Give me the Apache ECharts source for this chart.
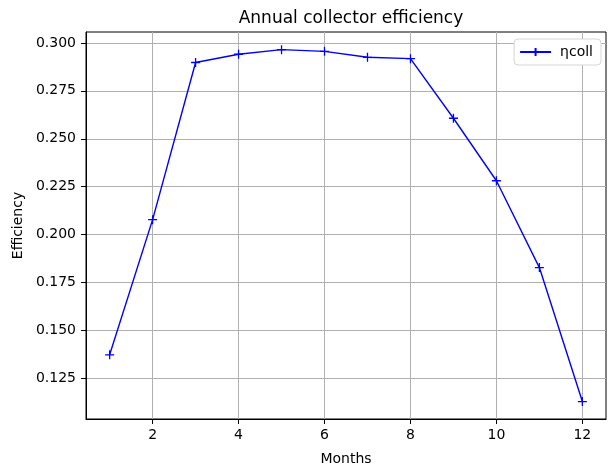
<!DOCTYPE html>
<html>
<head>
<meta charset="utf-8">
<script src="https://cdn.jsdelivr.net/npm/echarts@6/dist/echarts.min.js"></script>
<style>html,body{margin:0;padding:0;background:#fff}#c{width:609px;height:466px}</style>
</head>
<body>
<div id="c"></div>
<script>
const months = [1, 2, 3, 4, 5, 6, 7, 8, 9, 10, 11, 12];
const efficiency = [0.1373, 0.2078, 0.2898, 0.2941, 0.2965, 0.2956, 0.2925, 0.2918, 0.2607, 0.2281, 0.1828, 0.1129];
const xTicks = [2, 4, 6, 8, 10, 12];
const yTicks = [0.125, 0.150, 0.175, 0.200, 0.225, 0.250, 0.275, 0.300];
const seriesName = 'ηcoll';
const titleText = 'Annual collector efficiency';
const xName = 'Months';
const yName = 'Efficiency';

const font = 'DejaVu Sans';
const chart = echarts.init(document.getElementById('c'), null, {renderer: 'canvas'});
const plus = 'path://M0,5L10,5M5,0L5,10';
chart.setOption({
  animation: false,
  title: {text: titleText, left: 346, top: 5, textAlign: 'center',
    textStyle: {fontFamily: font, fontSize: 17, fontWeight: 'normal', color: '#000'}},
  grid: {left: 86, right: 3, top: 32, bottom: 47, show: true, borderColor: '#000', borderWidth: 1,
    backgroundColor: 'transparent', containLabel: false, outerBoundsMode: 'none'},
  legend: {
    right: 8, top: 39, orient: 'vertical',
    backgroundColor: '#fff', borderColor: '#d5d5d5', borderWidth: 1, borderRadius: 4,
    padding: [6, 8, 6, 5], itemWidth: 31, itemHeight: 10, itemGap: 4,
    textStyle: {fontFamily: font, fontSize: 14, color: '#000', padding: [0, 0, 0, 4]},
    data: [{name: seriesName}]
  },
  xAxis: {
    type: 'value', min: 0.45, max: 12.55,
    name: xName, nameLocation: 'middle', nameGap: 33,
    nameTextStyle: {fontFamily: font, fontSize: 14, color: '#000'},
    axisLine: {show: true, lineStyle: {color: '#000', width: 1}},
    axisTick: {show: true, length: 5, lineStyle: {color: '#000'}, customValues: xTicks},
    axisLabel: {fontFamily: font, fontSize: 14, color: '#000', margin: 9, customValues: xTicks,
      formatter: v => String(Math.round(v))},
    splitLine: {show: true, lineStyle: {color: '#b0b0b0', width: 1}, customValues: xTicks}
  },
  yAxis: {
    type: 'value', min: 0.1038, max: 0.3057,
    name: yName, nameLocation: 'middle', nameGap: 59, nameRotate: 90,
    nameTextStyle: {fontFamily: font, fontSize: 14, color: '#000'},
    axisLine: {show: true, lineStyle: {color: '#000', width: 1}},
    axisTick: {show: true, length: 5, lineStyle: {color: '#000'}, customValues: yTicks},
    axisLabel: {fontFamily: font, fontSize: 14, color: '#000', margin: 10, customValues: yTicks,
      formatter: v => v.toFixed(3)},
    splitLine: {show: true, lineStyle: {color: '#b0b0b0', width: 1}, customValues: yTicks}
  },
  series: [{
    name: seriesName, type: 'line',
    data: months.map((m, i) => [m, efficiency[i]]),
    symbol: plus, symbolSize: 9, showSymbol: true,
    lineStyle: {color: '#0000ff', width: 1.4},
    itemStyle: {color: 'none', borderColor: '#0000ff', borderWidth: 1.3},
    emphasis: {disabled: true}
  }]
});
</script>
</body>
</html>
